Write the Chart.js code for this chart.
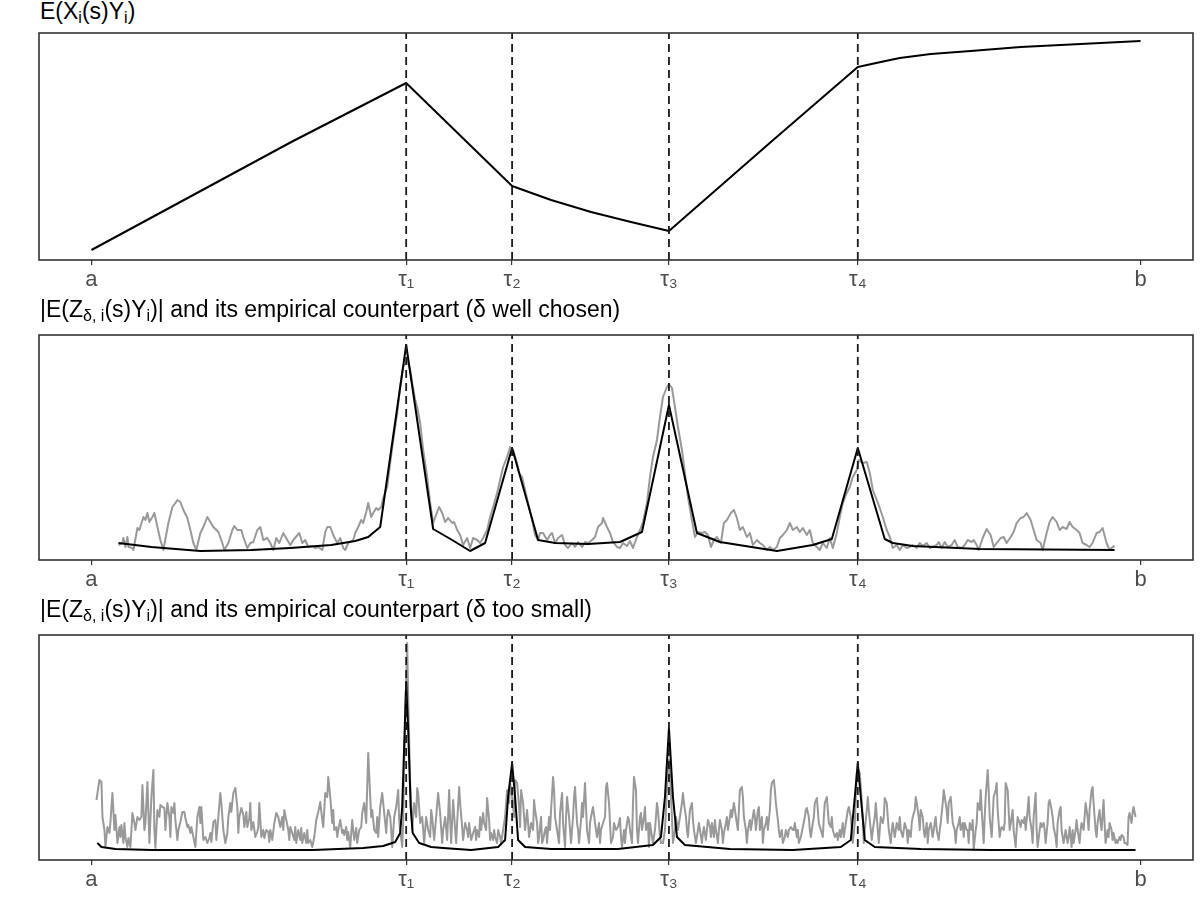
<!DOCTYPE html>
<html>
<head>
<meta charset="utf-8">
<script src="https://cdn.jsdelivr.net/npm/chart.js@4.4.1/dist/chart.umd.min.js"></script>
<style>
  body { margin: 0; background: #fff; width: 1200px; height: 900px; position: relative; overflow: hidden;
         font-family: "Liberation Sans", Arial, sans-serif; }
  .title { position: absolute; left: 40px; font-size: 23px; line-height: 23px; color: #000; white-space: nowrap; }
  .title sub { font-size: 16px; vertical-align: -4px; line-height: 0; }
  .panel { position: absolute; left: 0; width: 1200px; }
</style>
</head>
<body>
<div class="title" style="top:0px">E(X<sub>i</sub>(s)Y<sub>i</sub>)</div>
<div class="panel" style="top:32px;height:270px"><canvas id="c1" width="1200" height="270"></canvas></div>
<div class="title" style="top:298px">|E(Z<sub>δ, i</sub>(s)Y<sub>i</sub>)| and its empirical counterpart (δ well chosen)</div>
<div class="panel" style="top:334px;height:268px"><canvas id="c2" width="1200" height="268"></canvas></div>
<div class="title" style="top:598px">|E(Z<sub>δ, i</sub>(s)Y<sub>i</sub>)| and its empirical counterpart (δ too small)</div>
<div class="panel" style="top:634px;height:268px"><canvas id="c3" width="1200" height="268"></canvas></div>

<script>
// x runs from a = 0 to b = 1050, change points tau1..tau4
const tickPos = [0, 315, 421, 578, 767, 1050];
const tickLabels = ["a", "τ₁", "τ₂", "τ₃", "τ₄", "b"];
const tauPos = [315, 421, 578, 767];

// panel 1: E(Xi(s)Yi)
const meanCurve = [[0,0],[100,54],[200,108],[315,167],[421,64],[460,50],[500,38],[540,28],[578,19],[680,108],
  [767,183],[790,188],[809,192],[840,196],[880,199],[930,203],[990,206],[1050,209]];

// panel 2: delta well chosen
const trueWell = [[27,8],[60,4],[109,0],[160,1],[199,3],[240,6],[264,10],[277,14],[289,24],[315,206],[342,22],
  [361,11],[379,0],[394,8],[421,103],[447,11],[464,8],[497,7],[529,9],[551,19],[578,146],[606,18],[629,9],
  [686,0],[722,6],[741,12],[767,103],[794,12],[802,8],[822,5],[889,2],[1024,1]];
const empWell = [[27,6],[31,8],[32,13],[34,4],[36,14],[37,4],[41,3],[42,1],[46,23],[48,21],[52,34],[54,31],
  [56,38],[58,29],[61,34],[63,38],[66,24],[69,11],[72,1],[77,28],[81,44],[84,48],[86,51],[89,49],[92,41],
  [96,33],[99,21],[102,8],[105,1],[109,18],[112,24],[116,34],[119,29],[122,24],[127,19],[131,8],[133,1],
  [137,8],[141,21],[143,25],[146,21],[150,21],[152,14],[156,3],[159,8],[162,9],[166,21],[169,24],[172,11],
  [176,13],[179,8],[182,1],[185,13],[188,8],[192,18],[196,11],[199,6],[202,11],[208,18],[211,8],[214,11],
  [217,4],[221,5],[224,3],[227,4],[231,1],[234,19],[236,24],[239,24],[242,16],[246,8],[249,13],[252,3],
  [254,1],[257,8],[262,11],[264,18],[267,24],[270,31],[272,28],[275,39],[277,48],[280,34],[282,38],[285,43],
  [287,41],[290,44],[292,53],[296,64],[299,88],[302,111],[306,138],[309,164],[312,184],[316,191],[319,181],
  [321,168],[324,151],[326,144],[329,128],[332,101],[336,74],[339,48],[342,28],[346,39],[348,44],[351,38],
  [354,29],[357,33],[361,28],[363,29],[366,21],[369,16],[372,6],[376,13],[379,3],[382,13],[386,11],[389,8],
  [392,13],[396,21],[399,34],[402,44],[406,58],[409,71],[412,84],[416,94],[419,104],[422,101],[426,88],
  [428,78],[431,74],[434,61],[437,48],[441,31],[444,16],[447,11],[449,18],[452,18],[456,11],[459,16],
  [461,18],[464,8],[467,13],[471,16],[474,6],[477,3],[481,8],[484,4],[487,9],[491,4],[494,9],[497,8],
  [501,11],[504,14],[507,24],[511,28],[512,33],[516,24],[519,18],[522,9],[526,4],[529,3],[532,8],[536,5],
  [539,10],[542,3],[546,14],[549,21],[552,29],[556,48],[559,74],[562,94],[566,111],[569,134],[572,154],
  [576,164],[578,167],[581,163],[584,144],[587,124],[591,101],[594,78],[597,54],[601,31],[604,14],[607,19],
  [611,18],[614,19],[617,16],[620,4],[623,11],[626,14],[630,8],[633,28],[636,31],[640,38],[643,41],[646,33],
  [649,21],[652,24],[656,14],[659,18],[662,6],[666,11],[669,8],[672,6],[676,1],[679,4],[682,1],[686,4],
  [689,13],[692,16],[696,21],[699,28],[702,21],[706,24],[709,19],[712,23],[716,16],[719,21],[722,8],[726,4],
  [729,1],[732,8],[736,3],[739,13],[742,3],[746,18],[749,34],[752,48],[756,58],[759,64],[762,74],[766,81],
  [768,91],[772,88],[776,89],[779,78],[782,61],[786,51],[789,43],[792,34],[796,21],[799,14],[802,3],[806,6],
  [809,1],[812,6],[816,3],[819,4],[822,6],[826,3],[829,8],[832,5],[836,8],[839,3],[842,4],[846,6],[848,9],
  [851,3],[854,9],[857,4],[861,6],[864,11],[867,4],[871,3],[874,6],[877,11],[881,9],[883,11],[886,6],[888,1],
  [892,13],[896,22],[900,16],[903,4],[906,8],[910,13],[913,14],[916,8],[920,14],[923,19],[926,28],[930,33],
  [933,34],[936,38],[940,31],[943,21],[946,11],[950,8],[952,1],[956,18],[959,29],[962,34],[966,29],[969,21],
  [972,24],[976,22],[979,29],[982,24],[986,21],[989,18],[992,8],[996,6],[999,4],[1002,8],[1006,18],[1009,19],
  [1012,23],[1016,8],[1019,1],[1022,4],[1024,5]];

// panel 3: delta too small
const trueSmall = [[6,7],[10,3],[24,1],[60,0],[222,0],[272,2],[292,4],[304,8],[309,17],[311,43],[313.5,120],
  [315,168],[317,120],[319.5,43],[321.5,17],[328,7],[340,3],[352,2],[380,0],[407,3],[414,10],[417,53],
  [421,87],[424,53],[427,10],[434,3],[460,1],[527,1],[562,5],[570,13],[574,53],[578,122],[582,53],[586,13],
  [594,5],[639,1],[702,0],[750,3],[760,10],[764,53],[767,87],[770,53],[774,10],[784,3],[830,1],[900,0],[1045,0]];
const empSmall = [[5,50],[8,70],[10,68],[11,33],[13,20],[14,3],[16,23],[18,17],[19,28],[21,57],[23,20],[24,35],
  [26,7],[28,23],[29,13],[30,25],[32,7],[33,27],[34,13],[36,3],[37,12],[39,3],[41,37],[43,27],[44,20],[46,33],
  [48,30],[50,33],[51,65],[53,20],[54,27],[56,68],[58,7],[60,53],[62,80],[63,20],[64,2],[66,40],[68,33],
  [69,45],[71,43],[73,42],[74,20],[76,47],[78,33],[79,13],[80,43],[82,37],[83,47],[84,30],[86,10],[87,20],
  [89,28],[91,38],[93,38],[94,32],[96,23],[97,25],[99,17],[100,23],[102,13],[104,3],[106,33],[108,43],
  [109,27],[110,43],[112,10],[114,13],[116,7],[118,12],[119,17],[120,8],[122,28],[124,30],[125,10],[127,33],
  [129,57],[130,47],[132,20],[134,7],[136,17],[137,33],[139,47],[140,38],[142,57],[144,62],[146,43],[147,17],
  [148,33],[150,42],[152,35],[153,23],[155,38],[156,23],[158,32],[159,47],[160,20],[162,28],[164,13],[166,18],
  [167,23],[168,47],[170,13],[172,20],[173,12],[175,20],[177,18],[178,8],[179,20],[181,10],[183,27],[185,37],
  [187,33],[188,28],[189,23],[191,33],[192,20],[193,40],[195,30],[197,20],[198,10],[199,23],[201,17],[203,10],
  [204,23],[205,7],[207,20],[209,10],[210,22],[211,7],[213,17],[215,7],[216,20],[217,7],[219,10],[221,3],
  [223,13],[225,30],[227,38],[229,48],[231,30],[232,23],[234,57],[236,53],[237,73],[239,53],[241,27],[242,40],
  [243,20],[245,23],[246,13],[247,20],[249,30],[251,17],[252,20],[253,15],[255,23],[256,10],[257,18],[259,3],
  [261,30],[262,20],[263,10],[265,22],[266,7],[268,20],[270,23],[271,37],[273,47],[275,27],[276,63],[277,97],
  [279,53],[280,33],[281,40],[283,20],[285,17],[286,33],[287,13],[289,43],[291,57],[292,47],[293,37],[295,17],
  [296,33],[297,40],[299,33],[300,20],[301,3],[303,33],[305,43],[307,60],[308,30],[309,20],[311,3],[312,27],
  [313,87],[315,170],[316,207],[317,153],[319,67],[320,47],[321,20],[323,47],[325,33],[326,62],[327,57],
  [329,27],[331,33],[332,20],[333,7],[335,33],[337,20],[339,13],[340,40],[341,33],[343,10],[345,33],[347,57],
  [348,47],[349,37],[351,7],[352,20],[354,33],[356,10],[358,60],[359,30],[360,7],[362,50],[364,20],[365,7],
  [366,27],[368,63],[369,47],[371,23],[372,10],[374,27],[376,20],[377,13],[378,27],[380,10],[382,17],[384,23],
  [385,10],[386,20],[388,13],[389,33],[390,20],[392,37],[393,27],[395,20],[396,52],[398,30],[399,10],[400,17],
  [402,10],[403,20],[404,13],[406,7],[407,20],[409,13],[410,7],[412,20],[414,33],[416,60],[418,47],[419,67],
  [421,53],[423,33],[424,70],[426,67],[428,43],[429,23],[430,60],[432,47],[433,33],[434,20],[436,40],[437,27],
  [438,13],[440,27],[442,20],[443,50],[444,40],[446,27],[447,7],[448,13],[450,33],[451,7],[452,10],[454,20],
  [455,23],[456,7],[458,33],[459,20],[460,40],[462,73],[463,60],[464,33],[466,20],[468,7],[469,37],[471,57],
  [472,27],[474,3],[475,33],[476,53],[478,33],[479,20],[480,7],[482,33],[483,53],[484,63],[486,27],[487,20],
  [488,7],[490,30],[491,47],[492,33],[494,67],[495,43],[496,20],[498,7],[499,27],[500,33],[502,43],[504,27],
  [505,20],[506,13],[508,27],[509,7],[510,20],[512,27],[514,33],[515,63],[516,67],[518,47],[519,27],[520,7],
  [522,13],[523,27],[525,20],[527,23],[529,32],[530,13],[531,3],[533,20],[534,7],[535,20],[537,33],[538,30],
  [539,20],[541,7],[542,47],[543,73],[545,60],[546,20],[547,7],[549,33],[550,37],[551,20],[553,33],[554,43],
  [555,20],[557,27],[558,3],[559,27],[561,13],[562,7],[564,20],[566,47],[567,40],[569,13],[570,7],[572,7],
  [574,20],[575,40],[577,80],[578,90],[579,77],[581,33],[582,7],[584,20],[585,33],[587,20],[589,33],[591,47],
  [592,57],[593,47],[595,33],[596,20],[597,13],[599,40],[601,47],[602,30],[603,20],[605,7],[607,20],[608,27],
  [609,20],[611,7],[612,17],[613,23],[615,10],[616,20],[617,30],[619,23],[620,13],[621,27],[623,13],[624,30],
  [625,20],[627,7],[628,20],[629,30],[631,20],[632,7],[633,17],[635,27],[636,33],[637,20],[639,33],[640,40],
  [641,33],[643,47],[644,40],[645,33],[647,20],[648,40],[649,60],[651,63],[652,53],[653,33],[655,20],[656,7],
  [657,20],[659,30],[660,20],[661,27],[663,40],[664,33],[665,20],[667,40],[668,43],[669,20],[671,33],[672,7],
  [673,20],[675,27],[676,33],[677,20],[679,40],[680,60],[681,67],[683,70],[684,60],[685,47],[687,30],[688,20],
  [689,13],[691,20],[692,7],[694,13],[695,20],[697,13],[698,20],[700,23],[702,20],[703,20],[704,27],[706,13],
  [707,20],[708,7],[710,13],[712,23],[714,33],[715,40],[716,42],[718,33],[719,20],[720,13],[722,27],[723,33],
  [724,47],[726,52],[727,40],[728,27],[730,20],[732,13],[733,33],[734,47],[736,53],[737,40],[738,27],[740,23],
  [741,33],[742,20],[744,13],[746,17],[747,10],[749,20],[750,13],[752,27],[753,13],[754,20],[756,33],[757,40],
  [758,43],[760,33],[761,20],[762,7],[764,27],[765,53],[766,77],[768,80],[769,77],[770,63],[772,33],[773,7],
  [774,20],[776,40],[777,53],[778,40],[780,20],[781,10],[782,20],[784,33],[785,47],[786,33],[788,7],[789,20],
  [790,33],[792,27],[793,33],[794,52],[796,47],[797,33],[798,20],[800,7],[801,20],[802,27],[804,13],[805,20],
  [806,27],[808,20],[809,33],[810,20],[812,13],[813,20],[814,27],[816,20],[817,7],[818,20],[820,13],[821,27],
  [822,33],[824,40],[825,53],[826,47],[828,33],[829,20],[830,40],[832,33],[833,20],[834,13],[836,27],[837,7],
  [838,20],[840,27],[841,20],[842,13],[844,27],[845,33],[846,20],[848,10],[849,20],[850,27],[852,47],[853,60],
  [854,53],[856,40],[857,27],[858,47],[860,53],[861,40],[862,27],[864,20],[865,7],[866,20],[868,27],[869,33],
  [870,20],[872,27],[873,13],[874,27],[876,20],[877,20],[878,7],[879,27],[881,20],[882,30],[883,0],[885,20],
  [886,27],[887,47],[889,40],[890,60],[891,40],[893,7],[894,33],[895,53],[897,80],[898,60],[899,33],[901,13],
  [902,33],[903,53],[905,60],[906,67],[907,40],[909,13],[910,20],[911,23],[913,20],[914,27],[915,67],[917,60],
  [918,40],[919,20],[921,33],[922,40],[923,20],[925,3],[926,20],[927,33],[929,27],[930,23],[931,30],[933,27],
  [934,33],[935,20],[937,40],[938,53],[939,33],[941,20],[942,7],[943,33],[945,57],[946,20],[947,3],[949,20],
  [950,27],[951,23],[953,27],[954,20],[955,7],[957,27],[958,47],[959,50],[961,40],[962,33],[963,23],[965,13],
  [966,3],[967,27],[969,40],[970,43],[971,20],[973,7],[974,13],[975,20],[977,7],[978,13],[979,23],[981,3],
  [982,20],[983,7],[985,20],[986,30],[987,20],[989,7],[990,20],[991,27],[993,20],[994,33],[995,47],[997,33],
  [998,20],[999,40],[1001,60],[1002,63],[1003,47],[1005,20],[1006,13],[1007,27],[1009,40],[1010,27],[1011,20],
  [1013,50],[1014,27],[1015,7],[1017,20],[1018,13],[1019,27],[1021,20],[1022,10],[1023,17],[1025,7],[1026,10],
  [1027,7],[1029,13],[1030,10],[1031,15],[1033,13],[1034,7],[1035,7],[1037,5],[1038,33],[1039,37],[1041,27],
  [1042,37],[1043,43],[1045,33]];

Chart.defaults.font.family = '"Liberation Sans", Arial, sans-serif';

// draw the panel frame on top of everything
const panelBorder = {
  id: "panelBorder",
  afterDatasetsDraw(chart) {
    const { ctx, chartArea: ca } = chart;
    ctx.save();
    ctx.strokeStyle = "#333333";
    ctx.lineWidth = 1.6;
    ctx.strokeRect(ca.left, ca.top, ca.right - ca.left, ca.bottom - ca.top);
    ctx.restore();
  }
};

const toXY = pts => pts.map(([x, y]) => ({ x: x, y: y }));

function makePanel(id, lines, yMin, yMax) {
  const datasets = lines.map(l => ({
    data: toXY(l.data),
    borderColor: l.color,
    borderWidth: 2,
    order: l.order,
    pointRadius: 0
  }));
  tauPos.forEach(t => {
    datasets.push({
      data: [{ x: t, y: yMin }, { x: t, y: yMax }],
      borderColor: "#1a1a1a",
      borderWidth: 1.8,
      borderDash: [8, 5],
      order: 0,
      pointRadius: 0
    });
  });
  new Chart(document.getElementById(id), {
    type: "line",
    data: { datasets: datasets },
    options: {
      responsive: false,
      animation: false,
      devicePixelRatio: 1,
      layout: { padding: { left: 39, right: 7, top: 1, bottom: 0 } },
      plugins: { legend: { display: false }, tooltip: { enabled: false } },
      elements: { line: { tension: 0, borderJoinStyle: "round", borderCapStyle: "butt" } },
      scales: {
        x: {
          type: "linear",
          min: -52.5,
          max: 1102.5,
          afterBuildTicks: s => { s.ticks = tickPos.map(v => ({ value: v })); },
          afterFit: s => { s.height = 42; },
          grid: { drawOnChartArea: false, drawTicks: true, tickLength: 5, color: "#333333", lineWidth: 1.2 },
          border: { display: false },
          ticks: {
            color: "#4D4D4D",
            font: { size: 22 },
            padding: 2,
            maxRotation: 0,
            autoSkip: false,
            callback: (v, i) => tickLabels[i]
          }
        },
        y: { display: false, min: yMin, max: yMax }
      }
    },
    plugins: [panelBorder]
  });
}

makePanel("c1", [{ data: meanCurve, color: "#000000", order: 1 }], -10, 217);
makePanel("c2", [
  { data: empWell, color: "#999999", order: 2 },
  { data: trueWell, color: "#000000", order: 1 }
], -9, 216);
makePanel("c3", [
  { data: empSmall, color: "#999999", order: 2 },
  { data: trueSmall, color: "#000000", order: 1 }
], -10, 215);
</script>
</body>
</html>
